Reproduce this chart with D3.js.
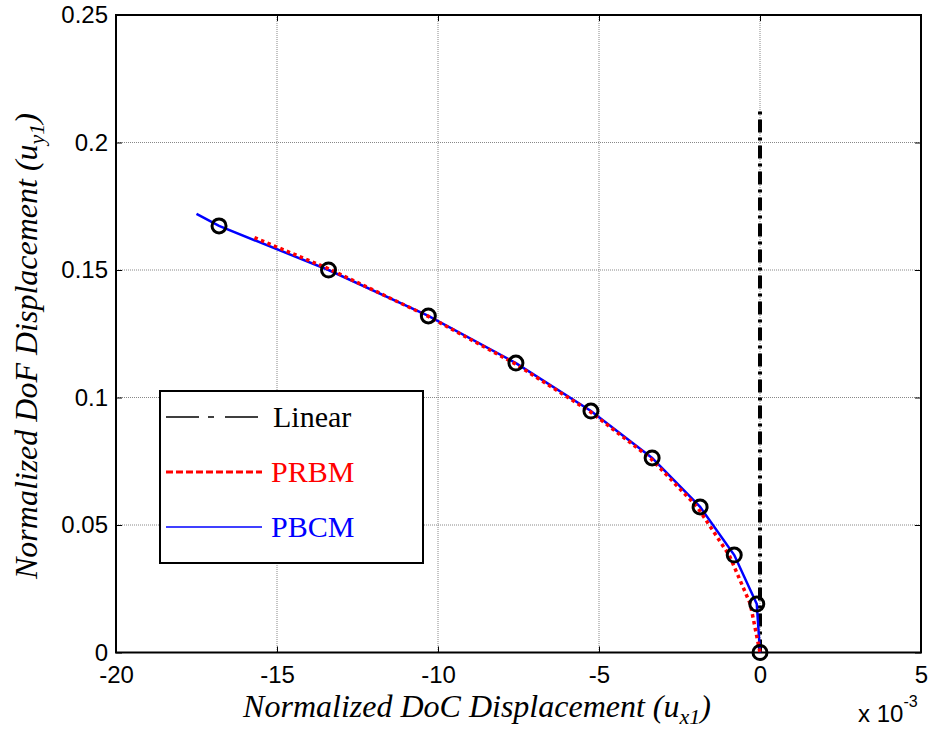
<!DOCTYPE html>
<html>
<head>
<meta charset="utf-8">
<script src="https://cdn.jsdelivr.net/npm/d3@7"></script>
<style>
  body { margin: 0; background: #fff; }
  svg { display: block; }
</style>
</head>
<body>
<svg></svg>
<script>
(function (d3) {
    'use strict';

    // values (x in units of 1e-3)
    const xTicks = [-20, -15, -10, -5, 0, 5];
    const yTicks = [0, 0.05, 0.1, 0.15, 0.2, 0.25];

    const pbcmX = [-17.5, -16.8, -13.4, -10.3, -7.58, -5.25, -3.35, -1.86, -0.8, -0.1, 0];
    const pbcmY = [0.172, 0.1673, 0.150, 0.132, 0.1135, 0.0947, 0.0763, 0.0571, 0.0382, 0.019, 0];

    const prbmX = [-15.7, -13.4, -10.3, -7.6, -5.28, -3.4, -1.95, -0.95, -0.3, 0];
    const prbmY = [0.1627, 0.1505, 0.1318, 0.1132, 0.0945, 0.0762, 0.0571, 0.038, 0.019, 0];

    const markX = [-16.8, -13.4, -10.3, -7.58, -5.25, -3.35, -1.86, -0.8, -0.1, 0];
    const markY = [0.1673, 0.150, 0.132, 0.1135, 0.0947, 0.0763, 0.0571, 0.0382, 0.019, 0];

    const linearX = [0, 0];
    const linearY = [0, 0.214];

    const width = 934;
    const height = 738;
    const margin = {top: 15, right: 13, bottom: 85.5, left: 116};
    const innerWidth = width - margin.left - margin.right;
    const innerHeight = height - margin.top - margin.bottom;

    const svg = d3.select('svg')
        .attr('width', width)
        .attr('height', height);

    const g = svg.append('g')
        .attr('transform', `translate(${margin.left},${margin.top})`);

    const x = d3.scaleLinear().domain([-20, 5]).range([0, innerWidth]);
    const y = d3.scaleLinear().domain([0, 0.25]).range([innerHeight, 0]);

    // grid
    g.selectAll('.gx').data(xTicks.slice(1, -1))
        .enter().append('line')
        .attr('x1', d => x(d)).attr('x2', d => x(d))
        .attr('y1', 0).attr('y2', innerHeight)
        .attr('stroke', '#888').attr('stroke-width', 1)
        .attr('stroke-dasharray', '1,1');
    g.selectAll('.gy').data(yTicks.slice(1, -1))
        .enter().append('line')
        .attr('y1', d => y(d)).attr('y2', d => y(d))
        .attr('x1', 0).attr('x2', innerWidth)
        .attr('stroke', '#888').attr('stroke-width', 1)
        .attr('stroke-dasharray', '1,1');

    // axes (ticks inward, box)
    const tickFont = '"Liberation Sans", Arial, sans-serif';
    const xAxis = g.append('g')
        .attr('transform', `translate(0,${innerHeight})`)
        .call(d3.axisBottom(x).tickValues(xTicks).tickSize(-6).tickPadding(13)
            .tickFormat(d => String(d)));
    const yAxis = g.append('g')
        .call(d3.axisLeft(y).tickValues(yTicks).tickSize(-6).tickPadding(8)
            .tickFormat(d => d === 0 ? '0' : String(+d.toFixed(2))));
    g.append('g')
        .attr('transform', `translate(${innerWidth},0)`)
        .call(d3.axisRight(y).tickValues(yTicks).tickSize(-6).tickFormat(''));
    g.append('g')
        .call(d3.axisTop(x).tickValues(xTicks).tickSize(-6).tickFormat(''));

    g.selectAll('.domain').remove();
    g.selectAll('.tick line').attr('stroke', '#000').attr('stroke-width', 1);
    [xAxis, yAxis].forEach(a => a.attr('font-size', 24).attr('font-family', tickFont)
        .selectAll('text').attr('fill', '#000'));

    g.append('rect')
        .attr('width', innerWidth).attr('height', innerHeight)
        .attr('fill', 'none').attr('stroke', '#000').attr('stroke-width', 2);

    const pts = (xs, ys) => xs.map((v, i) => [v, ys[i]]);
    const line = d3.line().x(d => x(d[0])).y(d => y(d[1]));

    // Linear
    g.append('path')
        .attr('d', line(pts(linearX, linearY)))
        .attr('fill', 'none').attr('stroke', '#000').attr('stroke-width', 4)
        .attr('stroke-dasharray', '13,5,3,5');

    // PBCM
    g.append('path')
        .attr('d', line(pts(pbcmX, pbcmY)))
        .attr('fill', 'none').attr('stroke', '#0000ff').attr('stroke-width', 2.5);

    // PRBM
    g.append('path')
        .attr('d', line(pts(prbmX, prbmY)))
        .attr('fill', 'none').attr('stroke', '#ff0000').attr('stroke-width', 3.5)
        .attr('stroke-dasharray', '3.5,3.5');

    // markers
    g.selectAll('circle.m').data(pts(markX, markY))
        .enter().append('circle')
        .attr('cx', d => x(d[0])).attr('cy', d => y(d[1]))
        .attr('r', 7)
        .attr('fill', 'none').attr('stroke', '#000').attr('stroke-width', 3);

    // legend
    const legend = svg.append('g').attr('transform', 'translate(160,391)');
    legend.append('rect')
        .attr('width', 263).attr('height', 172)
        .attr('fill', '#fff').attr('stroke', '#000').attr('stroke-width', 2);
    const items = [
        {name: 'Linear', color: '#000', dash: '33,9,6,11', w: 1.3},
        {name: 'PRBM', color: '#ff0000', dash: '7,3', w: 3},
        {name: 'PBCM', color: '#0000ff', dash: null, w: 1.3}
    ];
    items.forEach((it, i) => {
        const cy = 26 + i * 55;
        legend.append('line')
            .attr('x1', 6).attr('x2', 102).attr('y1', cy).attr('y2', cy)
            .attr('stroke', it.color).attr('stroke-width', it.w)
            .attr('stroke-dasharray', it.dash);
        legend.append('text')
            .attr('x', i === 0 ? 113 : 111).attr('y', cy + 10)
            .style('font', '30px "Liberation Serif", "Times New Roman", serif')
            .attr('fill', it.color)
            .text(it.name);
    });

    // axis labels
    const labelFont = 'italic 32px "Liberation Serif", "Times New Roman", serif';
    const xl = svg.append('text')
        .attr('x', 477).attr('y', 717)
        .attr('text-anchor', 'middle')
        .style('font', labelFont);
    xl.append('tspan').text('Normalized DoC Displacement (u');
    xl.append('tspan').attr('dy', 7).style('font-size', '22px').text('x1');
    xl.append('tspan').attr('dy', -7).text(')');

    const yl = svg.append('text')
        .attr('transform', 'translate(37,346) rotate(-90)')
        .attr('text-anchor', 'middle')
        .style('font', labelFont);
    yl.append('tspan').text('Normalized DoF Displacement (u');
    yl.append('tspan').attr('dy', 7).style('font-size', '22px').text('y1');
    yl.append('tspan').attr('dy', -7).text(')');

    const ex = svg.append('text')
        .attr('x', 858).attr('y', 722)
        .style('font', '24px ' + tickFont);
    ex.append('tspan').text('x 10');
    ex.append('tspan').attr('dy', -15).style('font-size', '16px').text('-3');
}(d3));
</script>
</body>
</html>
